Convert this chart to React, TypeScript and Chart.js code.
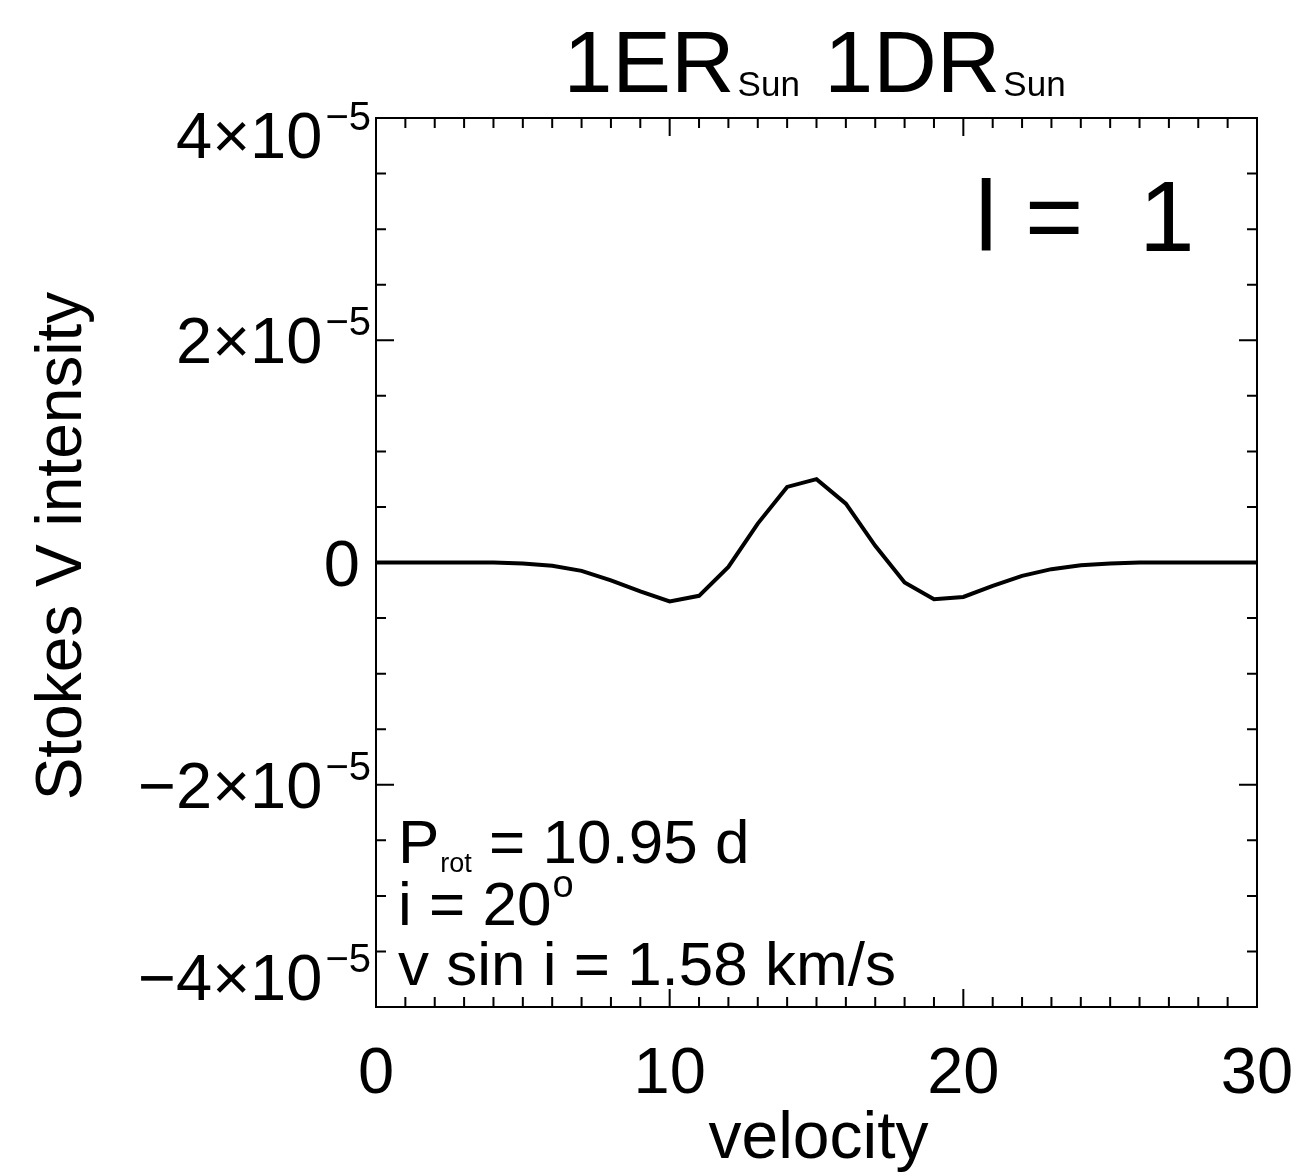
import React, { useEffect, useRef } from "react";
import { Chart, registerables } from "chart.js";

Chart.register(...registerables);

// ---- data ----
const velocity = [
  0, 1, 2, 3, 4, 5, 6, 7, 8, 9, 10, 11, 12, 13, 14, 15, 16, 17, 18, 19, 20,
  21, 22, 23, 24, 25, 26, 27, 28, 29, 30,
];
const stokesV = [
  0, 0, 0, 0, 0, -0.01e-5, -0.03e-5, -0.075e-5, -0.16e-5, -0.26e-5, -0.35e-5,
  -0.3e-5, -0.04e-5, 0.35e-5, 0.68e-5, 0.75e-5, 0.53e-5, 0.15e-5, -0.18e-5,
  -0.33e-5, -0.31e-5, -0.21e-5, -0.12e-5, -0.06e-5, -0.025e-5, -0.01e-5, 0, 0,
  0, 0, 0,
];
const xTickValues = [0, 10, 20, 30];
const xTickLabels = ["0", "10", "20", "30"];
const yTickValues = [4e-5, 2e-5, 0, -2e-5, -4e-5];
const yTickBase = ["4×10", "2×10", "0", "−2×10", "−4×10"];
const yTickExp = ["−5", "−5", "", "−5", "−5"];
const xMinorStep = 1;
const xMajorStep = 10;
const yMinorStep = 0.5e-5;
const yMajorStep = 2e-5;
const xMin = 0;
const xMax = 30;
const yMin = -4e-5;
const yMax = 4e-5;
const titleParts = [
  { text: "1ER", sub: false },
  { text: "Sun", sub: true },
  { text: " 1DR", sub: false },
  { text: "Sun", sub: true },
];
const xTitle = "velocity";
const yTitle = "Stokes V intensity";
const modeLabel = "l =  1";
const infoLines = [
  [{ t: "P", k: "n" }, { t: "rot", k: "sub" }, { t: " = 10.95 d", k: "n" }],
  [{ t: "i = 20", k: "n" }, { t: "o", k: "sup" }],
  [{ t: "v sin i = 1.58 km/s", k: "n" }],
];

const FONT = '"Liberation Sans", Helvetica, Arial, sans-serif';

const decorPlugin = {
  id: "decor",
  afterDraw(chart: any) {
    const ctx = chart.ctx as CanvasRenderingContext2D;
    const { left, right, top, bottom } = chart.chartArea;
    const xs = chart.scales.x;
    const ys = chart.scales.y;
    ctx.save();
    ctx.fillStyle = "#000";
    ctx.strokeStyle = "#000";

    // frame
    ctx.lineWidth = 2;
    ctx.strokeRect(left, top, right - left, bottom - top);

    // ticks
    const majorLen = 18;
    const minorLen = 10;
    ctx.lineWidth = 2;
    ctx.beginPath();
    const nx = Math.round((xMax - xMin) / xMinorStep);
    for (let i = 0; i <= nx; i++) {
      const v = xMin + i * xMinorStep;
      const px = xs.getPixelForValue(v);
      const isMajor = Math.abs(v / xMajorStep - Math.round(v / xMajorStep)) < 1e-6;
      const len = isMajor ? majorLen : minorLen;
      ctx.moveTo(px, bottom);
      ctx.lineTo(px, bottom - len);
      ctx.moveTo(px, top);
      ctx.lineTo(px, top + len);
    }
    const ny = Math.round((yMax - yMin) / yMinorStep);
    for (let i = 0; i <= ny; i++) {
      const v = yMin + i * yMinorStep;
      const py = ys.getPixelForValue(v);
      const r = v / yMajorStep;
      const isMajor = Math.abs(r - Math.round(r)) < 1e-6;
      const len = isMajor ? majorLen : minorLen;
      ctx.moveTo(left, py);
      ctx.lineTo(left + len, py);
      ctx.moveTo(right, py);
      ctx.lineTo(right - len, py);
    }
    ctx.stroke();

    // x tick labels
    ctx.textBaseline = "alphabetic";
    ctx.font = `65px ${FONT}`;
    ctx.textAlign = "center";
    xTickValues.forEach((v, i) => {
      ctx.fillText(xTickLabels[i], xs.getPixelForValue(v), 1093);
    });

    // y tick labels with superscripts
    ctx.textAlign = "left";
    yTickValues.forEach((v, i) => {
      const py = ys.getPixelForValue(v);
      let base = py + 23;
      base = Math.max(top + 40, Math.min(bottom - 7, base));
      const mainFont = `65px ${FONT}`;
      const supFont = `40px ${FONT}`;
      ctx.font = mainFont;
      const wMain = ctx.measureText(yTickBase[i]).width;
      ctx.font = supFont;
      const wSup = yTickExp[i] ? ctx.measureText(yTickExp[i]).width + 3 : 0;
      const rightEdge = yTickExp[i] ? 371 : 360;
      const x0 = rightEdge - wMain - wSup;
      ctx.font = mainFont;
      ctx.fillText(yTickBase[i], x0, base);
      if (yTickExp[i]) {
        ctx.font = supFont;
        ctx.fillText(yTickExp[i], x0 + wMain + 3, base - 28);
      }
    });

    // title
    const mainT = `88px ${FONT}`;
    const subT = `35px ${FONT}`;
    let total = 0;
    titleParts.forEach((p) => {
      ctx.font = p.sub ? subT : mainT;
      total += ctx.measureText(p.text).width + (p.sub ? 3 : 0);
    });
    let tx = (left + right) / 2 - total / 2 - 2;
    titleParts.forEach((p) => {
      ctx.font = p.sub ? subT : mainT;
      if (p.sub) tx += 3;
      ctx.fillText(p.text, tx, p.sub ? 96 : 92);
      tx += ctx.measureText(p.text).width;
    });

    // x title
    ctx.font = `66px ${FONT}`;
    ctx.textAlign = "center";
    ctx.fillText(xTitle, (left + right) / 2 + 2, 1158);

    // y title
    ctx.save();
    ctx.translate(81, 546);
    ctx.rotate(-Math.PI / 2);
    ctx.font = `64px ${FONT}`;
    ctx.textAlign = "center";
    ctx.fillText(yTitle, 0, 0);
    ctx.restore();

    // mode label
    ctx.textAlign = "left";
    ctx.font = `100px ${FONT}`;
    ctx.fillText(modeLabel, 975, 251);

    // info lines
    const baselines = [863, 925, 985];
    infoLines.forEach((line, li) => {
      let x = 398;
      const b = baselines[li];
      line.forEach((seg) => {
        if (seg.k === "n") {
          ctx.font = `62px ${FONT}`;
          ctx.fillText(seg.t, x, b);
          x += ctx.measureText(seg.t).width;
        } else if (seg.k === "sub") {
          ctx.font = `27px ${FONT}`;
          ctx.fillText(seg.t, x + 1, b + 9);
          x += ctx.measureText(seg.t).width + 1;
        } else {
          ctx.font = `38px ${FONT}`;
          ctx.fillText(seg.t, x + 1, b - 28);
          x += ctx.measureText(seg.t).width + 1;
        }
      });
    });

    ctx.restore();
  },
};

export default function App() {
  const canvasRef = useRef<HTMLCanvasElement | null>(null);

  useEffect(() => {
    if (!canvasRef.current) return;
    const chart = new Chart(canvasRef.current, {
      type: "line",
      data: {
        datasets: [
          {
            data: velocity.map((v, i) => ({ x: v, y: stokesV[i] })),
            borderColor: "#000",
            borderWidth: 4,
            pointRadius: 0,
            tension: 0,
            fill: false,
          },
        ],
      },
      options: {
        animation: false,
        responsive: true,
        maintainAspectRatio: false,
        layout: { padding: { left: 376, top: 118, right: 39, bottom: 165 } },
        plugins: {
          legend: { display: false },
          tooltip: { enabled: false },
          title: { display: false },
        },
        scales: {
          x: { type: "linear", min: xMin, max: xMax, display: false },
          y: { type: "linear", min: yMin, max: yMax, display: false },
        },
      },
      plugins: [decorPlugin],
    });
    return () => chart.destroy();
  }, []);

  return (
    <div
      style={{
        position: "absolute",
        left: 0,
        top: 0,
        width: 1296,
        height: 1172,
        background: "#fff",
      }}
    >
      <canvas ref={canvasRef} style={{ display: "block" }} />
    </div>
  );
}
